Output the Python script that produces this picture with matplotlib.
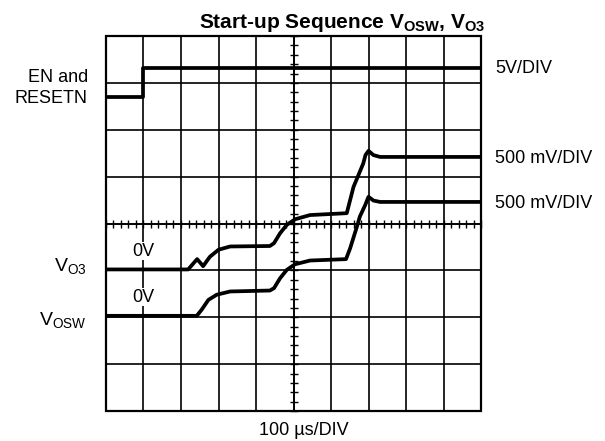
import numpy as np
import matplotlib
matplotlib.use("Agg")
import matplotlib.pyplot as plt
from matplotlib.patches import Rectangle
from matplotlib.ticker import MultipleLocator

plt.rcParams['font.family'] = ['Liberation Sans', 'DejaVu Sans']
plt.rcParams['mathtext.fontset'] = 'custom'
plt.rcParams['mathtext.rm'] = 'Liberation Sans'
plt.rcParams['mathtext.it'] = 'Liberation Sans:italic'
plt.rcParams['mathtext.bf'] = 'Liberation Sans:bold'

# scope traces, in divisions (x: -5..5, y: -4..4)
en_x = [-5, -4, -4, 5]
en_y = [2.70, 2.70, 3.31, 3.31]

vo3_x = [-5, -2.81, -2.57, -2.41, -2.23, -2.0, -1.69, -0.63, -0.52, -0.36, -0.18, 0.04, 0.44,
         1.42, 1.60, 1.73, 1.86, 1.92, 2.0, 2.13, 2.31, 5]
vo3_y = [-0.98, -0.98, -0.76, -0.91, -0.71, -0.56, -0.49, -0.48, -0.42, -0.21, -0.03, 0.09, 0.18,
         0.22, 0.78, 1.03, 1.28, 1.46, 1.55, 1.46, 1.42, 1.42]

vosw_x = [-5, -2.58, -2.45, -2.27, -2.05, -1.69, -0.63, -0.52, -0.36, -0.18, 0.04, 0.44,
          1.40, 1.51, 1.69, 1.77, 1.91, 2.0, 2.13, 2.31, 5]
vosw_y = [-1.97, -1.97, -1.84, -1.63, -1.52, -1.45, -1.43, -1.38, -1.17, -0.99, -0.87, -0.79,
          -0.76, -0.53, -0.07, 0.15, 0.39, 0.57, 0.49, 0.46, 0.46]

W, H = 605, 441
fig = plt.figure(figsize=(W / 100, H / 100), dpi=100)
ax = fig.add_axes([106 / W, 1 - 411 / H, 375 / W, 375 / H])

ax.set_xlim(-5, 5)
ax.set_ylim(-4, 4)
ax.set_xticks(np.arange(-5, 6))
ax.set_yticks(np.arange(-4, 5))
ax.xaxis.set_minor_locator(MultipleLocator(0.2))
ax.yaxis.set_minor_locator(MultipleLocator(0.2))
ax.grid(True, which='major', color='black', lw=1.2)
ax.spines['left'].set_position('zero')
ax.spines['bottom'].set_position('zero')
ax.spines['left'].set_linewidth(1.2)
ax.spines['bottom'].set_linewidth(1.2)
ax.spines[['top', 'right']].set_visible(False)
ax.tick_params(which='both', direction='inout', length=6, width=1,
               labelbottom=False, labelleft=False)
ax.add_patch(Rectangle((0, 0), 1, 1, transform=ax.transAxes, fill=False,
                       lw=1.6, ec='black', clip_on=False, zorder=5))

for xs, ys in [(en_x, en_y), (vo3_x, vo3_y), (vosw_x, vosw_y)]:
    ax.plot(xs, ys, color='black', lw=2.7, solid_joinstyle='round',
            solid_capstyle='butt', zorder=4)

for yy in [-0.59, -1.57]:
    ax.text(-4, yy, '0V', ha='center', va='center', fontsize=13, zorder=3,
            bbox=dict(fc='white', ec='none', pad=0.5))


def ftext(x, y, s, **kw):
    fig.text(x / W, 1 - y / H, s, va='baseline', **kw)


ftext(342, 28, r'Start-up Sequence V$_{\mathbf{OSW}}$, V$_{\mathbf{O3}}$',
      ha='center', fontsize=15, fontweight='bold')
ftext(88, 82, 'EN and', ha='right', fontsize=13)
ftext(88, 103, 'RESETN', ha='right', fontsize=13)
ftext(87, 271, r'V$_{\mathrm{O3}}$', ha='right', fontsize=14)
ftext(87, 325, r'V$_{\mathrm{OSW}}$', ha='right', fontsize=14)
ftext(495, 73, '5V/DIV', ha='left', fontsize=13)
ftext(495, 163, '500 mV/DIV', ha='left', fontsize=13)
ftext(495, 208, '500 mV/DIV', ha='left', fontsize=13)
ftext(304, 435, '100 µs/DIV', ha='center', fontsize=13)

fig.savefig('out.png', dpi=100)
